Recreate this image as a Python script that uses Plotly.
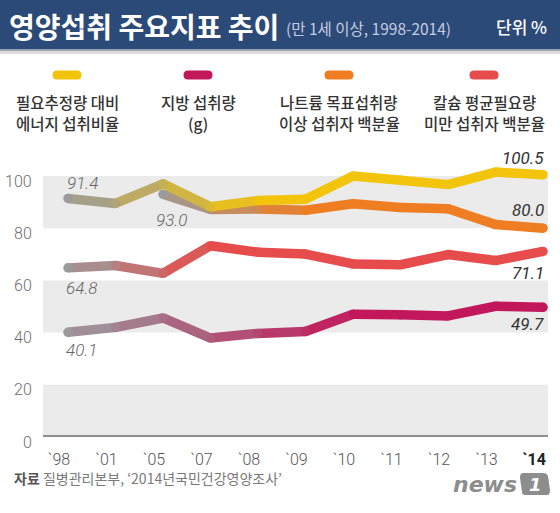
import plotly.graph_objects as go

# ---------------- data ----------------
years = ["`98", "`01", "`05", "`07", "`08", "`09", "`10", "`11", "`12", "`13", "`14"]
energy = [91.4, 89.5, 97.0, 88.2, 90.6, 91.1, 100.0, 98.4, 96.7, 101.5, 100.5]
fat = [40.1, 42.0, 45.6, 37.9, 39.7, 40.4, 47.0, 46.8, 46.4, 50.1, 49.7]
sodium = [None, None, 93.0, 87.2, 87.4, 86.9, 89.4, 87.9, 87.5, 81.4, 80.0]
calcium = [64.8, 65.7, 62.7, 73.3, 70.8, 70.1, 66.3, 66.0, 69.9, 67.6, 71.1]
y_ticks = [0, 20, 40, 60, 80, 100]
legend_lines = [
    ("필요추정량 대비", "에너지 섭취비율"),
    ("지방 섭취량", "(g)"),
    ("나트륨 목표섭취량", "이상 섭취자 백분율"),
    ("칼슘 평균필요량", "미만 섭취자 백분율"),
]

# ---------------- style ----------------
W, H = 560, 513
PL, PR, PT, PB = 43, 548, 150, 437
KR = "Noto Sans CJK KR"
NUM = "Roboto"
GRAY = (155, 155, 155)
C_EN = (242, 196, 12)
C_FAT = (194, 24, 91)
C_NA = (239, 125, 34)
C_CA = (230, 76, 76)
LW = 9.5


def px(x):
    return (x - PL) / (PR - PL)


def py(y):
    return (PB - y) / (PB - PT)


def mix(c, t):
    t = max(0.0, min(1.0, t))
    r = [round(GRAY[k] + (c[k] - GRAY[k]) * t) for k in range(3)]
    return f"rgb({r[0]},{r[1]},{r[2]})"


fig = go.Figure()


def add_series(vals, col, start, fade):
    n = len(vals)
    for i in range(n - 1):
        if vals[i] is None or vals[i + 1] is None:
            continue
        t = (i - start + 0.5) / fade
        fig.add_trace(go.Scatter(
            x=[years[i], years[i + 1]], y=[vals[i], vals[i + 1]],
            mode="lines", line=dict(color=mix(col, t), width=LW),
            hoverinfo="skip", showlegend=False))
    xs = [years[i] for i in range(n) if vals[i] is not None]
    ys = [vals[i] for i in range(n) if vals[i] is not None]
    cs = [mix(col, (i - start) / fade) for i in range(n) if vals[i] is not None]
    fig.add_trace(go.Scatter(
        x=xs, y=ys, mode="markers",
        marker=dict(size=LW, color=cs, line=dict(width=0)),
        hoverinfo="skip", showlegend=False))


add_series(fat, C_FAT, 0, 6)
add_series(calcium, C_CA, 0, 3)
add_series(sodium, C_NA, 2, 3)
add_series(energy, C_EN, 0, 4)

shapes = []
# background bands
for lo in (0, 40, 80):
    shapes.append(dict(type="rect", xref="paper", yref="y", x0=0, x1=1,
                       y0=lo, y1=lo + 20, fillcolor="#ebebeb",
                       line=dict(width=0), layer="below"))
# baseline
shapes.append(dict(type="line", xref="paper", yref="y", x0=0, x1=1, y0=0, y1=0,
                   line=dict(color="#8e8e8e", width=4), layer="above"))
# title bar
shapes.append(dict(type="rect", xref="paper", yref="paper", x0=px(0), x1=px(W),
                   y0=py(49), y1=py(0), fillcolor="#2c4a78", line=dict(width=0)))
shapes.append(dict(type="rect", xref="paper", yref="paper", x0=px(0), x1=px(W),
                   y0=py(51), y1=py(49), fillcolor="#9aa3ae", line=dict(width=0)))
shapes.append(dict(type="rect", xref="paper", yref="paper", x0=px(0), x1=px(W),
                   y0=py(54), y1=py(51), fillcolor="#dadcdf", line=dict(width=0)))

# legend swatches
sw_cols = [C_EN, C_FAT, C_NA, C_CA]
sw_x = [67, 198, 339, 484]
sw_path = ("M -10,-4.5 L 10,-4.5 Q 14.5,-4.5 14.5,0 Q 14.5,4.5 10,4.5 "
           "L -10,4.5 Q -14.5,4.5 -14.5,0 Q -14.5,-4.5 -10,-4.5 Z")
for c, x in zip(sw_cols, sw_x):
    shapes.append(dict(type="path", xref="paper", yref="paper",
                       xsizemode="pixel", ysizemode="pixel",
                       xanchor=px(x), yanchor=py(75), path=sw_path,
                       fillcolor=mix(c, 1), line=dict(width=0)))

# news1 logo box
shapes.append(dict(type="path", xref="paper", yref="paper",
                   xsizemode="pixel", ysizemode="pixel",
                   xanchor=px(535), yanchor=py(484),
                   path="M -10,-11 L 12,-11 Q 15,-11 15,-6 L 13,8 Q 12,11 8,11 "
                        "L -12,11 Q -15,11 -15,6 L -13,-8 Q -13,-11 -10,-11 Z",
                   fillcolor="#8d8d8d", line=dict(width=0)))

ann = []
# title
ann.append(dict(x=px(7), y=py(26), xref="paper", yref="paper", xanchor="left",
                yanchor="middle", showarrow=False, text="<b>영양섭취 주요지표 추이</b>",
                font=dict(family=KR, size=28, color="white")))
ann.append(dict(x=px(284), y=py(28), xref="paper", yref="paper", xanchor="left",
                yanchor="middle", showarrow=False, text="(만 1세 이상, 1998-2014)",
                font=dict(family=KR, size=15.5, color="#c3cce0")))
ann.append(dict(x=px(549), y=py(27), xref="paper", yref="paper", xanchor="right",
                yanchor="middle", showarrow=False, text="단위 %",
                font=dict(family=KR, size=17, color="white", weight=500)))

# legend text
for (l1, l2), x in zip(legend_lines, sw_x):
    for txt, yy in ((l1, 102), (l2, 123)):
        ann.append(dict(x=px(x), y=py(yy), xref="paper", yref="paper",
                        xanchor="center", yanchor="middle", showarrow=False,
                        text=txt, font=dict(family=KR, size=15.5, color="#333333",
                                            weight=500)))

# data labels
def dlabel(xi, val, text, xanchor, xshift, yshift, color, weight):
    ann.append(dict(x=years[xi], y=val, xref="x", yref="y", xanchor=xanchor,
                    yanchor="middle", xshift=xshift, yshift=yshift,
                    showarrow=False, text=text,
                    font=dict(family=NUM, size=17, color=color, style="italic",
                              weight=weight)))


dlabel(0, energy[0], f"{energy[0]:.1f}", "left", -3, 15, "#666666", 300)
dlabel(2, sodium[2], f"{sodium[2]:.1f}", "center", 8, -26, "#666666", 300)
dlabel(0, calcium[0], f"{calcium[0]:.1f}", "left", -4, -20, "#666666", 300)
dlabel(0, fat[0], f"{fat[0]:.1f}", "left", -4, -18, "#666666", 300)
dlabel(10, energy[10], f"{energy[10]:.1f}", "right", 3, 17, "#333333", 400)
dlabel(10, sodium[10], f"{sodium[10]:.1f}", "right", 3, 18, "#333333", 400)
dlabel(10, calcium[10], f"{calcium[10]:.1f}", "right", 3, -22, "#333333", 400)
dlabel(10, fat[10], f"{fat[10]:.1f}", "right", 3, -17, "#333333", 400)

# y tick labels (placed slightly below their gridline, as in the source)
for v in y_ticks:
    ann.append(dict(x=px(34), y=v, xref="paper", yref="y", xanchor="right",
                    yanchor="middle", yshift=-5, showarrow=False, text=str(v),
                    font=dict(family=NUM, size=16, color="#6e6e6e", weight=300)))

# footer
ann.append(dict(x=px(12), y=py(478), xref="paper", yref="paper", xanchor="left",
                yanchor="middle", showarrow=False,
                text="<b><span style='color:#555555'>자료</span></b> 질병관리본부, ‘2014년국민건강영양조사’",
                font=dict(family=KR, size=14, color="#7a7a7a")))
ann.append(dict(x=px(519), y=py(484), xref="paper", yref="paper", xanchor="right",
                yanchor="middle", showarrow=False, text="<b>news</b>",
                font=dict(family="DejaVu Sans", size=22, color="#8d8d8d",
                          style="italic")))
ann.append(dict(x=px(535), y=py(484), xref="paper", yref="paper", xanchor="center",
                yanchor="middle", showarrow=False, text="<b>1</b>",
                font=dict(family="DejaVu Sans", size=18, color="white",
                          style="italic")))

x_range_lo = -25 / 47.5
x_range_hi = (PR - 68) / 47.5
ticktext = [y if i < len(years) - 1 else f"<b><span style='color:#222222'>{y}</span></b>"
            for i, y in enumerate(years)]

fig.update_layout(
    width=W, height=H,
    margin=dict(l=PL, r=W - PR, t=PT, b=H - PB, pad=0),
    paper_bgcolor="white", plot_bgcolor="white",
    shapes=shapes, annotations=ann, showlegend=False,
    xaxis=dict(type="category", range=[x_range_lo, x_range_hi],
               tickvals=years, ticktext=ticktext, showgrid=False,
               zeroline=False, showline=False, ticks="",
               ticklabelstandoff=11, ticklabelshift=-9,
               tickfont=dict(family=NUM, size=16, color="#555555", weight=300),
               fixedrange=True),
    yaxis=dict(range=[0, (PB - PT) / 2.61], showgrid=False, zeroline=False,
               showline=False, ticks="", showticklabels=False, fixedrange=True),
)

fig.write_html("out.html", config={"displayModeBar": False},
               post_script="document.body.style.margin='0';")
